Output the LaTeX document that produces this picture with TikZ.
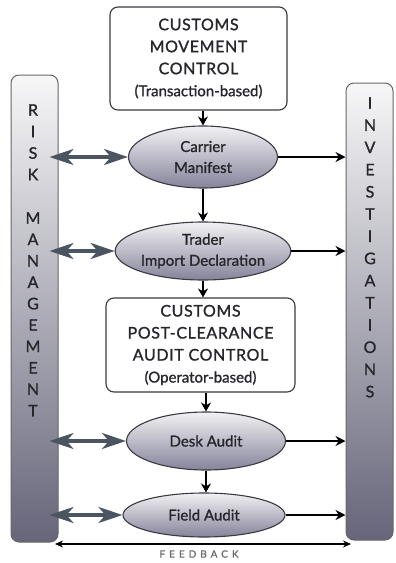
\documentclass[tikz,border=0pt]{standalone}
\usepackage{fontspec}
\setmainfont{Lato}
\newfontfamily\gill{Lato}[FakeBold=1.2]
\usetikzlibrary{arrows.meta,shapes.geometric}
\definecolor{txt}{HTML}{26262B}
\definecolor{edge}{HTML}{3A3A40}
\definecolor{barbot}{HTML}{66657A}
\definecolor{bartop}{HTML}{F7F7F8}
\definecolor{elltop}{HTML}{F2F2F4}
\definecolor{ellbot}{HTML}{85839A}
\definecolor{slate}{HTML}{4A5561}
\newcommand\capline[1]{{\fontsize{16}{22}\selectfont\addfontfeatures{LetterSpace=4}#1}}
\begin{document}
\begin{tikzpicture}[x=1pt,y=-1pt,
  boxnode/.style={draw=edge, line width=1.1pt, rounded corners=8pt, fill=white,
    align=center, text=txt, inner sep=0pt, font=\gill\fontsize{15}{22}\selectfont},
  ellnode/.style={ellipse, draw=edge, line width=1.1pt, top color=elltop, bottom color=ellbot,
    align=center, text=txt, inner sep=0pt, font=\gill\fontsize{15}{21}\selectfont},
  barnode/.style={draw=gray!80!black, line width=1pt, rounded corners=8pt,
    top color=bartop, bottom color=barbot, inner sep=0pt},
  barletter/.style={text=txt, inner sep=0pt, font=\gill\fontsize{16}{16}\selectfont},
  downarrow/.style={draw=black, line width=1.6pt, -{Stealth[length=9pt,width=10pt]}},
  rightarrow/.style={draw=black, line width=1.6pt, -{Stealth[length=10pt,width=10pt]}},
  riskarrow/.style={draw=slate, line width=3.2pt,
    {Stealth[length=24pt,width=16pt,inset=7pt]}-{Stealth[length=24pt,width=16pt,inset=7pt]}},
  fbarrow/.style={draw=black, line width=1.2pt, {Stealth[length=8pt,width=7pt]}-{Stealth[length=8pt,width=7pt]}}
]
\useasboundingbox (0,0) rectangle (396,563);

% side bars
\node[barnode, minimum width=47pt, minimum height=467pt] (lbar) at (34.5,308.5) {};
\node[barnode, minimum width=47pt, minimum height=457pt] (rbar) at (369.5,311.5) {};

\foreach \l [count=\i from 0] in {R,I,S,K}
  \node[barletter] (risk\i) at (33,110+21.5*\i) {\l};
\foreach \l [count=\i from 0] in {M,A,N,A,G,E,M,E,N,T}
  \node[barletter] (mgmt\i) at (33,218+21.4*\i) {\l};
\foreach \l [count=\i from 0] in {I,N,V,E,S,T,I,G,A,T,I,O,N,S}
  \node[barletter] (inv\i) at (370,103+22.2*\i) {\l};

% boxes
\node[boxnode, minimum width=177pt, minimum height=103pt] (cmc) at (198.5,58.5)
  {\capline{CUSTOMS}\\\capline{MOVEMENT}\\\capline{CONTROL}\\(Transaction-based)};
\node[boxnode, minimum width=189pt, minimum height=94pt] (pca) at (200.5,345)
  {\capline{CUSTOMS}\\\capline{POST-CLEARANCE}\\\capline{AUDIT CONTROL}\\(Operator-based)};

% ellipses
\node[ellnode, minimum width=149pt, minimum height=62pt] (carrier) at (203,157) {Carrier\\Manifest};
\node[ellnode, minimum width=159pt, minimum height=58pt] (trader) at (203,251) {Trader\\Import Declaration};
\node[ellnode, minimum width=159pt, minimum height=58pt] (desk) at (206,441) {Desk Audit};
\node[ellnode, minimum width=162pt, minimum height=44pt] (field) at (204,515) {Field Audit};

% vertical flow
\draw[downarrow] (carrier.north |- cmc.south) -- (carrier.north);
\draw[downarrow] (carrier.south) -- (carrier.south |- trader.north);
\draw[downarrow] (trader.south) -- (trader.south |- pca.north);
\draw[downarrow] (pca.south -| desk.north) -- (desk.north);
\draw[downarrow] (desk.south) -- (desk.south |- field.north);

% to investigations
\foreach \e in {carrier,trader,desk,field}
  \draw[rightarrow] (\e.east) -- (\e.east -| rbar.west);

% risk management double arrows
\foreach \e in {carrier,trader,desk,field}
  \draw[riskarrow] ([xshift=-9pt]\e.west -| lbar.east) -- (\e.west);

% feedback
\coordinate (fbl) at (55,544);
\coordinate (fbr) at (351,544);
\draw[fbarrow] (fbl) -- (fbr);
\node[text=gray!85!black, inner sep=0pt, font=\gill\fontsize{10}{10}\selectfont\addfontfeatures{LetterSpace=40}] (fb) at (199,554) {FEEDBACK};
\end{tikzpicture}
\end{document}
